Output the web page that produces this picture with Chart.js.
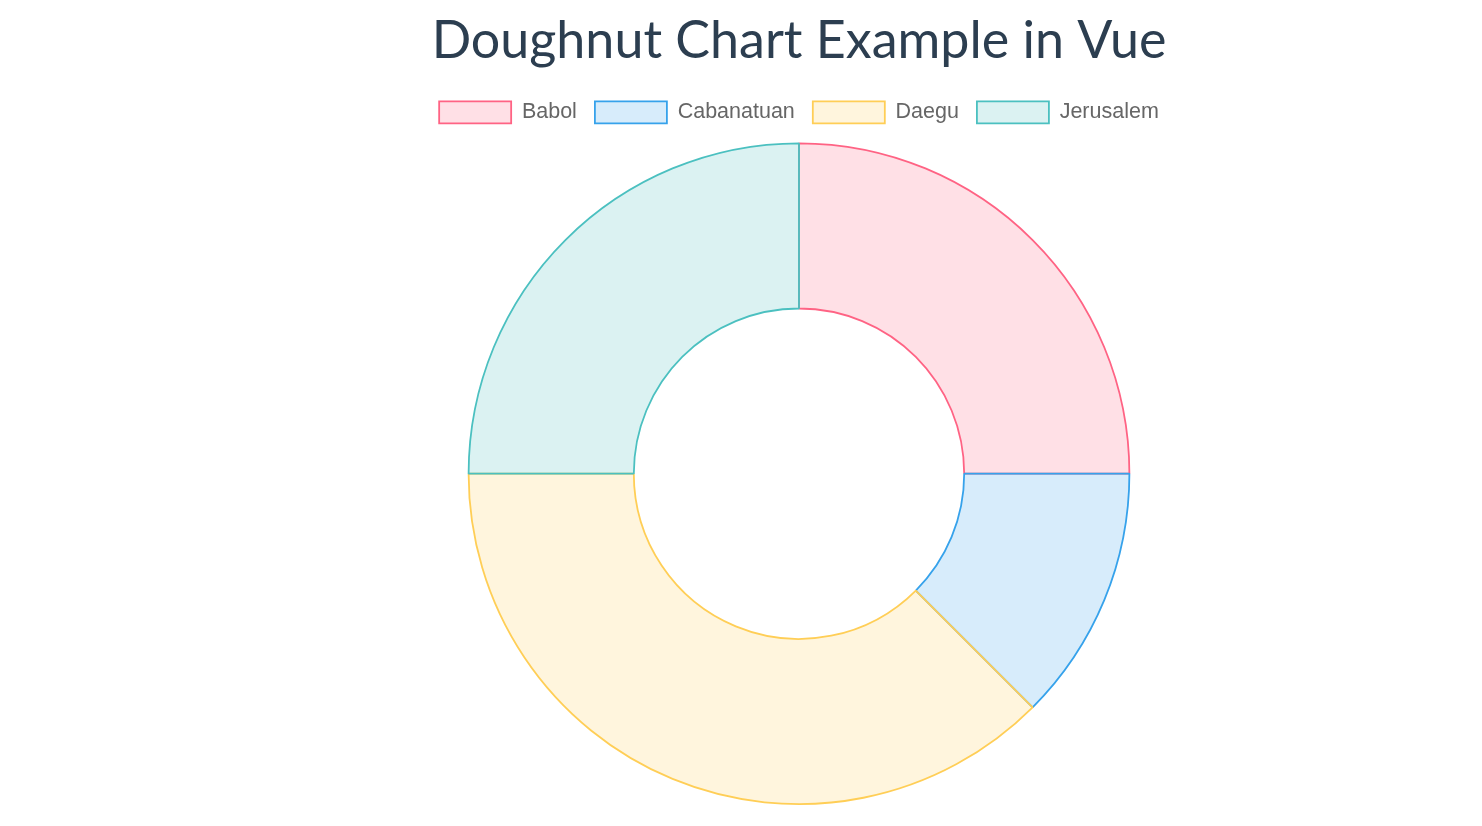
<!DOCTYPE html>
<html>
<head>
<meta charset="utf-8">
<script src="https://cdn.jsdelivr.net/npm/chart.js@4/dist/chart.umd.min.js"></script>
<style>
  html,body{margin:0;padding:0;background:#fff;}
  #wrap{position:absolute;left:299px;top:0;width:1000px;height:826px;}
</style>
</head>
<body>
<div id="wrap"><canvas id="c"></canvas></div>
<script>
const titleText = 'Doughnut Chart Example in Vue';
const cities = ['Babol', 'Cabanatuan', 'Daegu', 'Jerusalem'];
const cityValues = [2, 1, 3, 2];
const fillColors = ['rgba(255,99,132,0.2)', 'rgba(54,162,235,0.2)', 'rgba(255,206,86,0.2)', 'rgba(75,192,192,0.2)'];
const lineColors = ['rgb(255,99,132)', 'rgb(54,162,235)', 'rgb(255,206,86)', 'rgb(75,192,192)'];

const legendGap = {
  id: 'legendGap',
  beforeLayout(chart) {
    const lg = chart.legend;
    if (lg && !lg._gapWrapped) {
      const orig = lg.fit;
      lg.fit = function () { orig.call(this); this.height += 9; };
      lg._gapWrapped = true;
    }
  }
};

new Chart(document.getElementById('c'), {
  type: 'doughnut',
  data: {
    labels: cities,
    datasets: [{
      data: cityValues,
      backgroundColor: fillColors,
      borderColor: lineColors,
      borderWidth: 1.8
    }]
  },
  options: {
    responsive: true,
    maintainAspectRatio: false,
    animation: false,
    cutout: '50%',
    layout: { padding: { top: 10, bottom: 21 } },
    plugins: {
      title: {
        display: true,
        text: titleText,
        color: '#2c3e50',
        font: { family: 'Lato', size: 52, weight: 'normal' },
        padding: { top: 0, bottom: 11 }
      },
      legend: {
        position: 'top',
        labels: {
          color: '#666',
          font: { family: 'Liberation Sans', size: 21.5 },
          boxWidth: 72,
          boxHeight: 22,
          padding: 18
        }
      },
      tooltip: { enabled: false }
    }
  },
  plugins: [legendGap]
});
</script>
</body>
</html>
